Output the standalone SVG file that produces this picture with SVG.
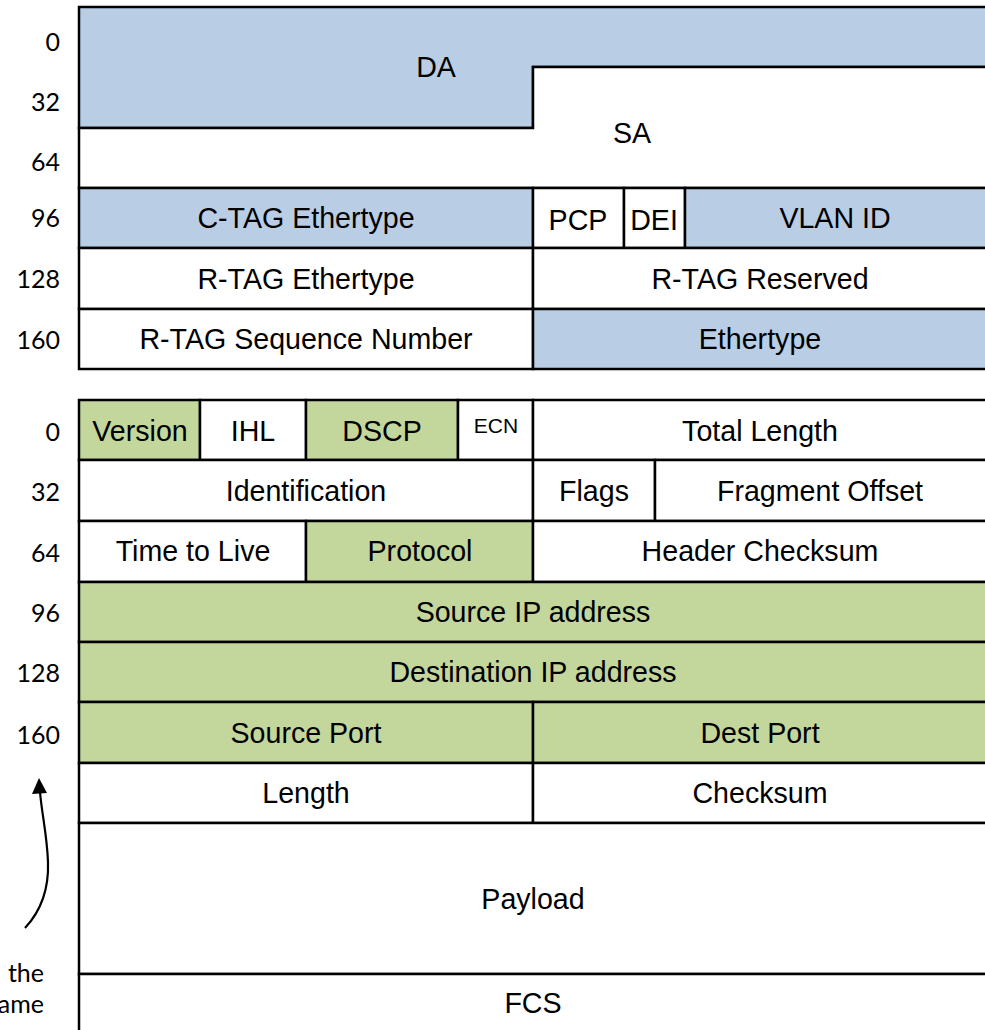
<svg xmlns="http://www.w3.org/2000/svg" width="985" height="1030" viewBox="0 0 985 1030">
<style>
.b{fill:#B9CDE5;stroke:#000;stroke-width:2.5}
.g{fill:#C3D69B;stroke:#000;stroke-width:2.5}
.w{fill:#FFFFFF;stroke:#000;stroke-width:2.5}
.t{font-family:"Liberation Sans",Arial,sans-serif;font-size:28.6px;fill:#000;text-anchor:middle}
.s{font-family:"Liberation Sans",Arial,sans-serif;font-size:21px;fill:#000;text-anchor:middle}
.n{font-family:Lato,"Open Sans",sans-serif;font-size:25px;fill:#000;text-anchor:end}
.c{font-family:Lato,"Open Sans",sans-serif;font-size:25px;fill:#000;text-anchor:end}
</style>
<rect width="985" height="1030" fill="#fff"/>

<g id="offsets">
<text class="n" x="60" y="51">0</text>
<text class="n" x="60" y="111">32</text>
<text class="n" x="60" y="171">64</text>
<text class="n" x="60" y="227">96</text>
<text class="n" x="60" y="288">128</text>
<text class="n" x="60" y="349">160</text>
<text class="n" x="60" y="441">0</text>
<text class="n" x="60" y="501">32</text>
<text class="n" x="60" y="562">64</text>
<text class="n" x="60" y="622">96</text>
<text class="n" x="60" y="682">128</text>
<text class="n" x="60" y="744">160</text>
</g>

<g id="da"><polygon class="b" points="79,7 995,7 995,67 533,67 533,128 79,128"/><text class="t" x="436" y="77">DA</text></g>
<g id="sa"><polygon class="w" points="79,128 533,128 533,67 995,67 995,188 79,188"/><text class="t" x="632" y="143">SA</text></g>
<g id="ctag"><rect class="b" x="79" y="188" width="454" height="60"/><text class="t" x="306" y="228">C-TAG Ethertype</text></g>
<g id="pcp"><rect class="w" x="533" y="188" width="91" height="60"/><text class="t" x="578" y="230">PCP</text></g>
<g id="dei"><rect class="w" x="624" y="188" width="61" height="60"/><text class="t" x="654" y="230">DEI</text></g>
<g id="vlan"><rect class="b" x="685" y="188" width="310" height="60"/><text class="t" x="835" y="228">VLAN ID</text></g>
<g id="rtag-eth"><rect class="w" x="79" y="248" width="454" height="61"/><text class="t" x="306" y="289">R-TAG Ethertype</text></g>
<g id="rtag-res"><rect class="w" x="533" y="248" width="462" height="61"/><text class="t" x="760" y="289">R-TAG Reserved</text></g>
<g id="rtag-seq"><rect class="w" x="79" y="309" width="454" height="60"/><text class="t" x="306" y="349">R-TAG Sequence Number</text></g>
<g id="ethertype"><rect class="b" x="533" y="309" width="462" height="60"/><text class="t" x="760" y="349">Ethertype</text></g>

<g id="version"><rect class="g" x="79" y="400" width="121" height="60"/><text class="t" x="140" y="441">Version</text></g>
<g id="ihl"><rect class="w" x="200" y="400" width="106" height="60"/><text class="t" x="253" y="441">IHL</text></g>
<g id="dscp"><rect class="g" x="306" y="400" width="152" height="60"/><text class="t" x="382" y="441">DSCP</text></g>
<g id="ecn"><rect class="w" x="458" y="400" width="75" height="60"/><text class="s" x="496" y="433">ECN</text></g>
<g id="total-length"><rect class="w" x="533" y="400" width="462" height="60"/><text class="t" x="760" y="441">Total Length</text></g>
<g id="identification"><rect class="w" x="79" y="460" width="454" height="61"/><text class="t" x="306" y="501">Identification</text></g>
<g id="flags"><rect class="w" x="533" y="460" width="122" height="61"/><text class="t" x="594" y="501">Flags</text></g>
<g id="frag-offset"><rect class="w" x="655" y="460" width="340" height="61"/><text class="t" x="820" y="501">Fragment Offset</text></g>
<g id="ttl"><rect class="w" x="79" y="521" width="227" height="61"/><text class="t" x="193" y="561">Time to Live</text></g>
<g id="protocol"><rect class="g" x="306" y="521" width="227" height="61"/><text class="t" x="420" y="561">Protocol</text></g>
<g id="hdr-checksum"><rect class="w" x="533" y="521" width="462" height="61"/><text class="t" x="760" y="561">Header Checksum</text></g>
<g id="src-ip"><rect class="g" x="79" y="582" width="916" height="60"/><text class="t" x="533" y="622">Source IP address</text></g>
<g id="dst-ip"><rect class="g" x="79" y="642" width="916" height="60"/><text class="t" x="533" y="682">Destination IP address</text></g>
<g id="src-port"><rect class="g" x="79" y="702" width="454" height="61"/><text class="t" x="306" y="743">Source Port</text></g>
<g id="dst-port"><rect class="g" x="533" y="702" width="462" height="61"/><text class="t" x="760" y="743">Dest Port</text></g>
<g id="length"><rect class="w" x="79" y="763" width="454" height="60"/><text class="t" x="306" y="803">Length</text></g>
<g id="checksum"><rect class="w" x="533" y="763" width="462" height="60"/><text class="t" x="760" y="803">Checksum</text></g>
<g id="payload"><rect class="w" x="79" y="823" width="916" height="151"/><text class="t" x="533" y="909">Payload</text></g>
<g id="fcs"><rect class="w" x="79" y="974" width="916" height="70"/><text class="t" x="533" y="1013">FCS</text></g>

<g id="connectors">
<path d="M25,928 C40,912 49,890 48,862 C47,835 42,815 40,792" fill="none" stroke="#000" stroke-width="2.2"/>
<polygon points="39,778 32,794 47,793" fill="#000"/>
</g>
<g id="note">
<text class="c" x="44" y="982">the</text>
<text class="c" x="44" y="1013">ame</text>
</g>
</svg>
